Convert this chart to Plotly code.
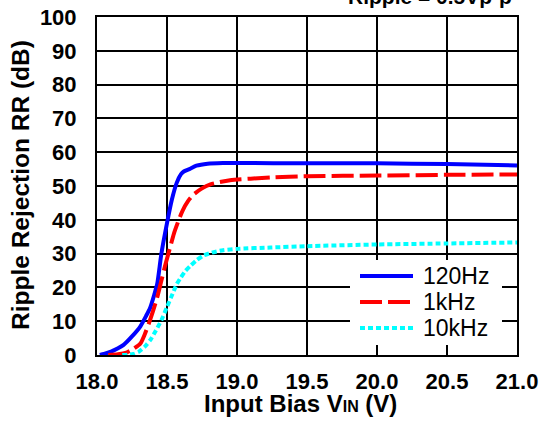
import plotly.graph_objects as go

# Data
x_120 = [18.02, 18.05, 18.10, 18.15, 18.19, 18.25, 18.31, 18.35, 18.38, 18.41, 18.43, 18.46, 18.50, 18.535, 18.57, 18.60, 18.62, 18.66, 18.71, 18.79, 18.90, 19.0, 19.5, 20.0, 20.5, 21.0]
y_120 = [0.0, 0.3, 1.0, 2.0, 3.0, 5.5, 8.5, 11.5, 14.0, 18.0, 21.0, 30.0, 39.0, 46.0, 51.0, 53.5, 54.3, 55.0, 56.0, 56.6, 56.8, 56.8, 56.7, 56.7, 56.5, 56.1]

x_1k = [18.08, 18.15, 18.21, 18.26, 18.31, 18.34, 18.37, 18.40, 18.43, 18.46, 18.49, 18.52, 18.55, 18.58, 18.61, 18.65, 18.69, 18.75, 18.81, 18.95, 19.24, 19.5, 20.0, 20.5, 21.0]
y_1k = [0.0, 0.2, 0.7, 1.8, 3.4, 6.0, 9.3, 13.0, 17.0, 22.0, 27.0, 31.5, 36.0, 39.5, 42.6, 45.5, 47.5, 49.3, 50.5, 51.7, 52.5, 52.9, 53.1, 53.3, 53.4]

x_10k = [18.18, 18.22, 18.26, 18.30, 18.34, 18.38, 18.42, 18.46, 18.50, 18.54, 18.57, 18.60, 18.63, 18.67, 18.71, 18.76, 18.82, 18.90, 19.0, 19.24, 19.5, 20.0, 20.5, 21.0]
y_10k = [0.0, 0.1, 0.3, 1.0, 2.4, 4.4, 7.2, 10.3, 14.2, 18.1, 21.0, 23.0, 24.8, 26.5, 28.0, 29.4, 30.3, 31.0, 31.4, 31.8, 32.2, 32.7, 33.0, 33.3]

series_names = ["120Hz", "1kHz", "10kHz"]
series_colors = ["#0000ff", "#ff0000", "#00ffff"]
series_dash = ["solid", "22px,6px", "5px,3px"]
x_ticks = [18.0, 18.5, 19.0, 19.5, 20.0, 20.5, 21.0]
x_tick_labels = ["18.0", "18.5", "19.0", "19.5", "20.0", "20.5", "21.0"]
y_ticks = [0, 10, 20, 30, 40, 50, 60, 70, 80, 90, 100]

FONT = "Liberation Sans"
W, H = 544, 425
ML, MR, MT, MB = 97, 27, 17, 70
PW, PH = W - ML - MR, H - MT - MB


def px_x(px):
    return (px - ML) / PW


def px_y(py):
    return (H - MB - py) / PH


fig = go.Figure()
for xs, ys, name, col, dash in zip([x_120, x_1k, x_10k], [y_120, y_1k, y_10k],
                                    series_names, series_colors, series_dash):
    fig.add_trace(go.Scatter(x=xs, y=ys, mode="lines", name=name, showlegend=False,
                             hoverinfo="skip",
                             line=dict(color=col, width=4, dash=dash, shape="spline", smoothing=0.6)))

shapes = [dict(type="rect", xref="paper", yref="paper",
               x0=px_x(350), x1=px_x(502), y0=px_y(345), y1=px_y(260),
               fillcolor="white", line=dict(width=0), layer="above")]
annotations = []
legend_rows = [276, 302, 328]
for name, col, dash, ry in zip(series_names, series_colors, series_dash, legend_rows):
    shapes.append(dict(type="line", xref="paper", yref="paper",
                       x0=px_x(360), x1=px_x(413), y0=px_y(ry), y1=px_y(ry),
                       line=dict(color=col, width=4, dash=dash), layer="above"))
    annotations.append(dict(text=name, xref="paper", yref="paper",
                            x=px_x(421), y=px_y(ry), xanchor="left", yanchor="middle",
                            showarrow=False, font=dict(family=FONT, size=23, color="black")))

annotations += [
    dict(text="<b>Ripple = 0.5Vp-p</b>", xref="paper", yref="paper",
         x=px_x(514), y=1, xanchor="right", yanchor="bottom", yshift=7,
         showarrow=False, font=dict(family=FONT, size=21, color="black")),
    dict(text="<b>Input Bias V<span style='font-size:16px'>IN</span> (V)</b>",
         xref="paper", yref="paper", x=px_x(300), y=px_y(403),
         xanchor="center", yanchor="middle", showarrow=False,
         font=dict(family=FONT, size=24, color="black")),
    dict(text="<b>Ripple Rejection RR (dB)</b>", xref="paper", yref="paper",
         x=px_x(20), y=px_y(185), xanchor="center", yanchor="middle",
         textangle=-90, showarrow=False,
         font=dict(family=FONT, size=24.5, color="black")),
]

fig.update_layout(
    width=W, height=H,
    margin=dict(l=ML, r=MR, t=MT, b=MB, autoexpand=False),
    paper_bgcolor="white", plot_bgcolor="white",
    font=dict(family=FONT, color="black"),
    showlegend=False,
    hovermode=False,
    shapes=shapes,
    annotations=annotations,
)
fig.update_xaxes(
    range=[18.0, 21.0], tickvals=x_ticks, ticktext=[f"<b>{t}</b>" for t in x_tick_labels],
    showgrid=True, gridcolor="black", gridwidth=1.6, zeroline=False,
    showline=True, linecolor="black", linewidth=2, mirror=True,
    ticks="", ticklabelstandoff=6, automargin=False,
    tickfont=dict(family=FONT, size=22, color="black"),
)
fig.update_yaxes(
    range=[0, 100], tickvals=y_ticks, ticktext=[f"<b>{t}</b>" for t in y_ticks],
    showgrid=True, gridcolor="black", gridwidth=1.6, zeroline=False,
    showline=True, linecolor="black", linewidth=2, mirror=True,
    ticks="", ticklabelstandoff=14, automargin=False,
    tickfont=dict(family=FONT, size=22, color="black"),
)

fig.write_html("out.html", config={"displayModeBar": False},
               post_script="document.body.style.margin='0px';document.body.style.overflow='hidden';")
